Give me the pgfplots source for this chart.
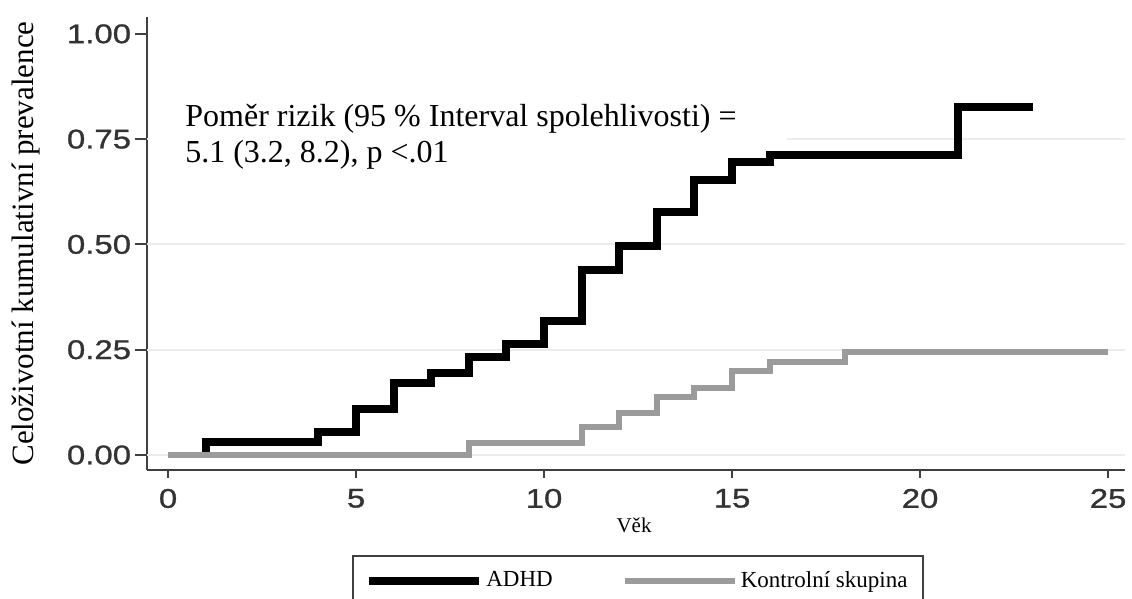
\documentclass[border=0pt]{standalone}
\usepackage{fontspec}
\setmainfont{Liberation Serif}
\newfontfamily\arialf[FakeStretch=1.22,FakeBold=1]{Liberation Sans}
\usepackage{pgfplots}
\pgfplotsset{compat=1.18}
\definecolor{axisgray}{RGB}{64,64,64}
\definecolor{ctrlgray}{RGB}{155,155,155}
\definecolor{gridgray}{RGB}{236,236,236}
\begin{document}
\begin{tikzpicture}
\begin{axis}[
  scale only axis,
  width=489pt, height=226.5pt,
  xmin=-0.56, xmax=25.45,
  ymin=-0.0356, ymax=1.040,
  axis x line*=bottom, axis y line*=left,
  axis line style={axisgray, line width=1pt},
  every axis line/.append style={-},
  tick align=outside,
  xtick={0,5,10,15,20,25},
  ytick={0,0.25,0.5,0.75,1},
  xtick style={axisgray, line width=1pt, /pgfplots/major tick length=4pt},
  ytick style={axisgray, line width=1pt, /pgfplots/major tick length=6pt},
  extra y ticks={0,0.25,0.5,0.75},
  extra y tick labels={},
  extra y tick style={ymajorgrids=true, grid style={gridgray, line width=1pt}, /pgfplots/major tick length=0pt},
  yticklabel={\pgfmathprintnumber[fixed,fixed zerofill,precision=2]{\tick}},
  /pgf/number format/assume math mode=true,
  ticklabel style={font=\arialf\fontsize{13.5}{16}\selectfont, text=black!80},
  yticklabel style={inner xsep=0pt, xshift=-3.5pt},
  xticklabel style={inner ysep=0pt, yshift=-5pt},
  xlabel={Věk},
  xlabel style={at={(axis description cs:0.498,-0.137)}, anchor=base, font=\fontsize{10.5}{12}\selectfont},
  ylabel={Celoživotní kumulativní prevalence},
  ylabel style={at={(axis description cs:-0.1237,0.5)}, anchor=center, rotate=0, font=\fontsize{15.5}{18}\selectfont},
  legend columns=2,
  legend style={at={(axis description cs:0.502,-0.188)}, anchor=north,
    draw=axisgray, line width=1pt, inner xsep=6pt, inner ysep=6pt,
    font=\fontsize{11.5}{13}\selectfont,
    nodes={inner sep=1.5pt},
    /tikz/every even column/.append style={column sep=33pt}},
  legend image code/.code={\draw[#1] (0pt,0pt) -- (55pt,0pt);},
]
\fill[white] (axis cs:-0.5,0.70) rectangle (axis cs:16.46,0.97);
\addplot[const plot, black, line width=4pt, line join=miter] coordinates {
 (1,0) (1,0.031) (4,0.055) (5,0.11) (6,0.17) (7,0.195) (8,0.233) (9,0.264)
 (10,0.318) (11,0.44) (12,0.497) (13,0.577) (14,0.653) (15,0.696) (16,0.713)
 (21,0.827) (23,0.827)};
\addlegendentry{ADHD}
\addplot[const plot, ctrlgray, line width=3pt, line join=miter] coordinates {
 (0,0) (8,0.028) (11,0.066) (12,0.10) (13,0.138) (14,0.16) (15,0.20)
 (16,0.22) (18,0.245) (25,0.245)};
\addlegendentry{Kontrolní skupina}
\node[anchor=north west, align=left, inner sep=0pt, font=\fontsize{16}{18}\selectfont]
  at (axis cs:0.45,0.834) {Poměr rizik (95 \% Interval spolehlivosti) =\\5.1 (3.2, 8.2), p <.01};
\end{axis}
\pgfresetboundingbox
\path[use as bounding box] ([shift={(-73.5pt,-64.5pt)}]current axis.south west) rectangle ([shift={(492.5pt,235pt)}]current axis.south west);
\end{tikzpicture}
\end{document}
